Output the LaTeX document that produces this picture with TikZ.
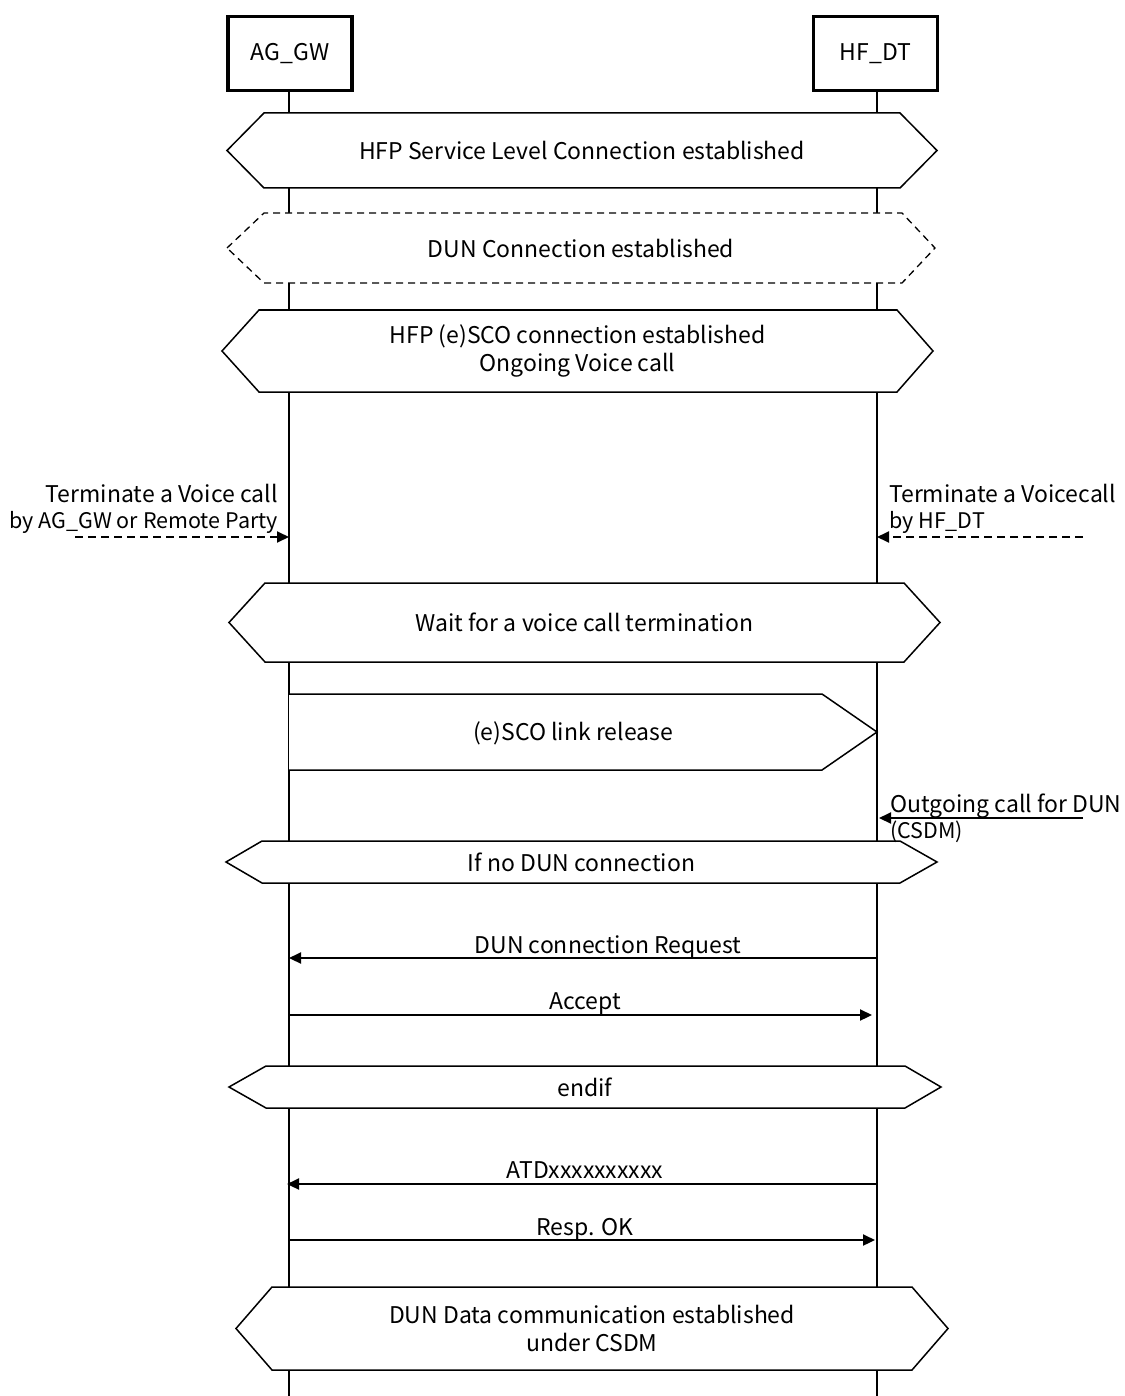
\documentclass[tikz,border=0pt]{standalone}
\usepackage{fontspec}
\setmainfont{Noto Sans CJK JP}
\usetikzlibrary{arrows.meta}
\tikzset{
  actor/.style={draw, line width=3.6pt, minimum width=124pt, minimum height=74pt, inner sep=0pt, font=\fontsize{23}{26}\selectfont},
  lifeline/.style={line width=2.6pt},
  hexline/.style={draw, fill=white, line width=1.5pt, line join=miter},
  hexdash/.style={draw, fill=white, line width=1.3pt, dash pattern=on 7pt off 5pt},
  lbl/.style={inner sep=0pt, align=center, font=\fontsize{23}{28}\selectfont},
  side/.style={inner sep=0pt, font=\fontsize{23}{26}\selectfont},
  small/.style={font=\fontsize{21.5}{26}\selectfont},
  msg/.style={line width=2.2pt, -{Triangle[length=12pt,width=11pt]}},
  msgdash/.style={line width=2pt, dash pattern=on 8pt off 5pt, -{Triangle[length=12pt,width=11pt]}}
}
\newcommand\hexa[8]{%
  \path[hexline] (#2,{(#6+#7)/2}) -- (#3,#6) -- (#4,#6) -- (#5,{(#6+#7)/2}) -- (#4,#7) -- (#3,#7) -- cycle;
  \node[lbl] (#1) at ({(#2+#5)/2},{(#6+#7)/2}) {#8};}
\newcommand\sm[1]{{\fontsize{21.5}{26}\selectfont #1}}
\begin{document}
\begin{tikzpicture}[x=1pt,y=-1pt]
\useasboundingbox (0,0) rectangle (1124,1396);
% actors
\node[actor] (ag) at (290,53.5) {AG\_GW};
\node[actor] (hf) at (875.5,53.5) {HF\_DT};
\coordinate (agend) at (289,1396);
\coordinate (hfend) at (877,1396);
\draw[lifeline] (ag.south -| agend) -- (agend);
\draw[lifeline] (hf.south -| hfend) -- (hfend);
% boxes
\hexa{slc}{227}{264}{900}{937}{113}{188}{HFP Service Level Connection established}
\path[hexdash] (227,248) -- (264,213) -- (902,213) -- (935,248) -- (902,283) -- (264,283) -- cycle;
\node[lbl] (dun) at (581,248) {DUN Connection established};
\hexa{sco}{222}{259}{897}{933}{310}{392}{HFP (e)SCO connection established\\Ongoing Voice call}
\hexa{wait}{229}{265}{904}{940}{583}{662}{Wait for a voice call termination}
\path[hexline] (289,694) -- (822,694) -- (877,732) -- (822,770) -- (289,770);
\node[lbl] (rel) at (573,733) {(e)SCO link release};
\hexa{ifno}{226}{262}{900}{937}{841}{883}{If no DUN connection}
\hexa{endif}{229}{266}{905}{941}{1066}{1108}{endif}
\hexa{data}{236}{272}{912}{948}{1287}{1370}{DUN Data communication established\\under CSDM}
% side events
\node[side, align=right, anchor=east] (tl) at (278,509) {Terminate a Voice call\\\sm{by AG\_GW or Remote Party}};
\coordinate (tls) at (75,537);
\coordinate (tle) at (289,537);
\draw[msgdash] (tls) -- (tle);
\node[side, align=left, anchor=west] (tr) at (889,509) {Terminate a Voicecall\\\sm{by HF\_DT}};
\coordinate (trs) at (1083,537);
\coordinate (tre) at (877,537);
\draw[msgdash] (trs) -- (tre);
\node[side, align=left, anchor=west] (oc) at (890,818) {Outgoing call for DUN\\\sm{(CSDM)}};
\coordinate (ocs) at (1083,818);
\coordinate (oce) at (879,818);
\draw[msg] (ocs) -- (oce);
% messages
\coordinate (m1a) at (877,958); \coordinate (m1b) at (289,958);
\draw[msg] (m1a) -- (m1b);
\node[lbl, anchor=base] (m1t) at (608,953) {DUN connection Request};
\coordinate (m2a) at (289,1015); \coordinate (m2b) at (872,1015);
\draw[msg] (m2a) -- (m2b);
\node[lbl, anchor=base] (m2t) at (585,1009) {Accept};
\coordinate (m3a) at (877,1184); \coordinate (m3b) at (287,1184);
\draw[msg] (m3a) -- (m3b);
\node[lbl, anchor=base] (m3t) at (585,1178) {ATDxxxxxxxxxx};
\coordinate (m4a) at (289,1240); \coordinate (m4b) at (875,1240);
\draw[msg] (m4a) -- (m4b);
\node[lbl, anchor=base] (m4t) at (585,1235) {Resp. OK};
\end{tikzpicture}
\end{document}
